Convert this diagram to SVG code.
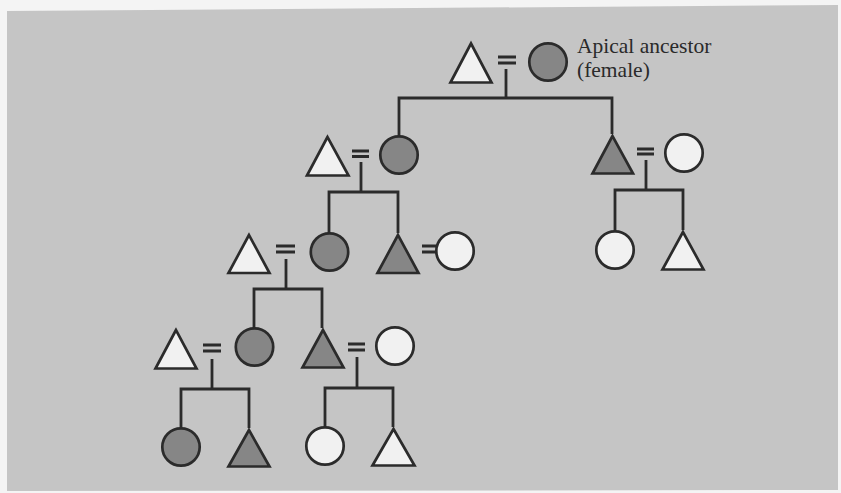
<svg xmlns="http://www.w3.org/2000/svg" width="841" height="493" viewBox="0 0 841 493">
<style>
.ln{stroke:#2b2b2b;stroke-width:2.8;fill:none;stroke-linecap:butt}
.nd{stroke:#2b2b2b;stroke-width:2.7;stroke-linejoin:miter}
.dk{fill:#868686}
.wh{fill:#f1f1f1}
.lbl{font-family:"Liberation Serif","Times New Roman",serif;font-size:21.5px;fill:#2a2a2a}
</style>
<rect x="0" y="0" width="841" height="493" fill="#f4f4f4"/>
<polygon points="7,11 838,5 838,490 7,491" fill="#c5c5c5"/>

<g id="connectors">
  <path class="ln" d="M498,57H516M498,63H516M506,69V98"/>
  <path class="ln" d="M352,151H369M352,156.5H369M361,162V192"/>
  <path class="ln" d="M637,149H654M637,154H654M646,160V190"/>
  <path class="ln" d="M276,246H295M276,252H295M286,259V289"/>
  <path class="ln" d="M422,246H439M422,252H439"/>
  <path class="ln" d="M203,345H221M203,351H221M212,359V389"/>
  <path class="ln" d="M348,344H365M348,350H365M357,357V388"/>
  <path class="ln" d="M399,136V98H612V134"/>
  <path class="ln" d="M329,233V192H398V233"/>
  <path class="ln" d="M615,231V190H683V230"/>
  <path class="ln" d="M254,328V289H322V328"/>
  <path class="ln" d="M181,428V389H249V428"/>
  <path class="ln" d="M325,427V388H393V427"/>
</g>

<g id="ancestor-husband"><polygon class="nd wh" points="471,43.5 450.5,82.5 491.5,82.5"/></g>
<g id="ancestor-female"><circle class="nd dk" cx="548" cy="62" r="18.7"/></g>
<g id="label"><text class="lbl" x="577" y="53">Apical ancestor</text><text class="lbl" x="577" y="77">(female)</text></g>

<g id="g1-husband"><polygon class="nd wh" points="327.5,137 307,175.5 348.5,175.5"/></g>
<g id="g1-daughter"><circle class="nd dk" cx="399" cy="155" r="18.7"/></g>
<g id="g1-son"><polygon class="nd dk" points="612.5,136 592.5,173.5 633,173.5"/></g>
<g id="g1-son-wife"><circle class="nd wh" cx="684" cy="153" r="18.7"/></g>

<g id="g2-husband"><polygon class="nd wh" points="249,235 228.5,273 269.5,273"/></g>
<g id="g2-daughter"><circle class="nd dk" cx="329.5" cy="252" r="18.7"/></g>
<g id="g2-son"><polygon class="nd dk" points="398,235 377.5,273 418.5,273"/></g>
<g id="g2-son-wife"><circle class="nd wh" cx="455" cy="251" r="18.7"/></g>
<g id="g2-cousin-f"><circle class="nd wh" cx="615" cy="250" r="18.7"/></g>
<g id="g2-cousin-m"><polygon class="nd wh" points="683,232 662.5,269.5 703.5,269.5"/></g>

<g id="g3-husband"><polygon class="nd wh" points="176,330 155.5,368.5 196.5,368.5"/></g>
<g id="g3-daughter"><circle class="nd dk" cx="254.5" cy="347" r="18.7"/></g>
<g id="g3-son"><polygon class="nd dk" points="323,330 302.5,367.5 343.5,367.5"/></g>
<g id="g3-son-wife"><circle class="nd wh" cx="395" cy="346" r="18.7"/></g>

<g id="g4-daughter"><circle class="nd dk" cx="181" cy="447" r="18.7"/></g>
<g id="g4-son"><polygon class="nd dk" points="249,430 228.5,466.5 269.5,466.5"/></g>
<g id="g4-cousin-f"><circle class="nd wh" cx="325" cy="446" r="18.7"/></g>
<g id="g4-cousin-m"><polygon class="nd wh" points="393.5,429 372.5,465.5 414.5,465.5"/></g>
</svg>
